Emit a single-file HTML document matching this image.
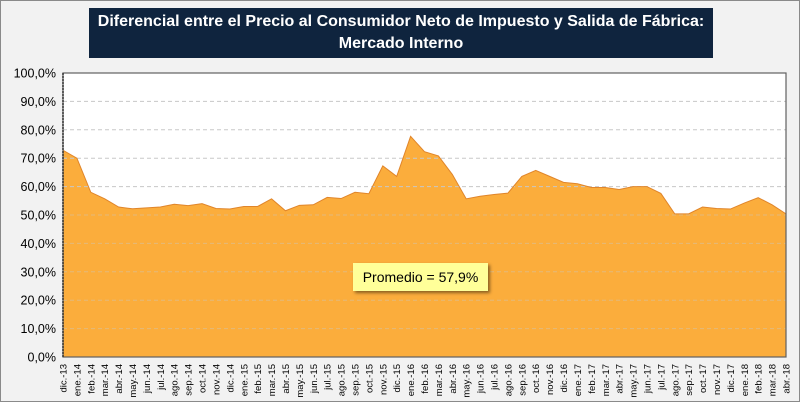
<!DOCTYPE html>
<html><head><meta charset="utf-8"><style>
body{margin:0;background:#fff;}
#wrap{position:relative;width:798px;height:400px;border:1px solid #8a8a8a;background:#f2f2f2;font-family:"Liberation Sans",sans-serif;overflow:hidden;}
#title{position:absolute;left:88px;top:7px;width:624px;height:50px;background:#0f243e;color:#fff;font-weight:bold;font-size:16px;line-height:22px;text-align:center;padding-top:3px;box-sizing:border-box;white-space:nowrap;}
#avg{position:absolute;left:352px;top:262px;width:135px;height:28px;background:#ffff99;box-shadow:2px 2px 3px rgba(0,0,0,0.45);font-size:14px;line-height:28px;text-align:center;color:#000;}
</style></head><body>
<div id="wrap">
<svg id="chart" width="798" height="400" style="position:absolute;left:0;top:0"></svg>
<div id="title">Diferencial entre el Precio al Consumidor Neto de Impuesto y Salida de Fábrica:<br>Mercado Interno</div>
<div id="avg">Promedio = 57,9%</div>
</div>
<script>
const categories=["dic.-13","ene.-14","feb.-14","mar.-14","abr.-14","may.-14","jun.-14","jul.-14","ago.-14","sep.-14","oct.-14","nov.-14","dic.-14","ene.-15","feb.-15","mar.-15","abr.-15","may.-15","jun.-15","jul.-15","ago.-15","sep.-15","oct.-15","nov.-15","dic.-15","ene.-16","feb.-16","mar.-16","abr.-16","may.-16","jun.-16","jul.-16","ago.-16","sep.-16","oct.-16","nov.-16","dic.-16","ene.-17","feb.-17","mar.-17","abr.-17","may.-17","jun.-17","jul.-17","ago.-17","sep.-17","oct.-17","nov.-17","dic.-17","ene.-18","feb.-18","mar.-18","abr.-18"];
const values=[72.8,70,58,55.7,52.8,52.2,52.5,52.8,53.8,53.3,54,52.3,52.1,53,53,55.7,51.5,53.4,53.6,56.2,55.8,58,57.5,67.3,63.6,77.7,72.3,70.8,64.3,55.7,56.6,57.2,57.7,63.6,65.7,63.6,61.5,61,59.7,59.7,59,60,60,57.6,50.4,50.4,52.8,52.3,52.1,54.2,56.1,53.6,50.4];
const yTicks=[0,10,20,30,40,50,60,70,80,90,100];
const yTickLabels=["0,0%","10,0%","20,0%","30,0%","40,0%","50,0%","60,0%","70,0%","80,0%","90,0%","100,0%"];
const svg=document.getElementById('chart');
const NS='http://www.w3.org/2000/svg';
const L=62,R=785,T=72,B=356;
const x=i=>L+(R-L)*i/(categories.length-1);
const y=v=>B-(B-T)*v/100;
function mk(t,a){const e=document.createElementNS(NS,t);for(const k in a)e.setAttribute(k,a[k]);svg.appendChild(e);return e;}
const bg=mk('rect',{x:L,y:T,width:R-L,height:B-T,fill:'#fff'});


let d='M'+x(0)+','+B;
values.forEach((v,i)=>{d+=' L'+x(i)+','+y(v);});
d+=' L'+x(values.length-1)+','+B+' Z';
const area=mk('path',{d:d,fill:'#fbad3c',stroke:'none'});


yTicks.forEach((t,i)=>{
  if(t>0&&t<100){const g=mk('line',{x1:L,x2:R,y1:y(t),y2:y(t),stroke:'#c8c8c8','stroke-dasharray':'4,3','stroke-width':1,opacity:t<=50?0.45:1});
  
  }
  const tx=mk('text',{x:L-7,y:y(t)+4.5,'text-anchor':'end','font-size':12.5,fill:'#000'});
  tx.textContent=yTickLabels[i];
  
  
});
let ld='';values.forEach((v,i)=>{ld+=(i?' L':'M')+x(i)+','+y(v);});
const line=mk('path',{d:ld,fill:'none',stroke:'#e0852a','stroke-width':1});


const fr=mk('rect',{x:L,y:T,width:R-L,height:B-T,fill:'none',stroke:'#606060','stroke-width':1.2});


const ax=mk('line',{x1:L,x2:L,y1:T,y2:B,stroke:'#333','stroke-dasharray':'2,1','stroke-width':1.5});


categories.forEach((c,i)=>{
  const tx=mk('text',{x:0,y:0,transform:'translate('+(x(i)+3.5)+','+(B+7)+') rotate(-90)','text-anchor':'end','font-size':9.5,fill:'#000'});
  tx.textContent=c;
  
  
});
</script>
</body></html>
